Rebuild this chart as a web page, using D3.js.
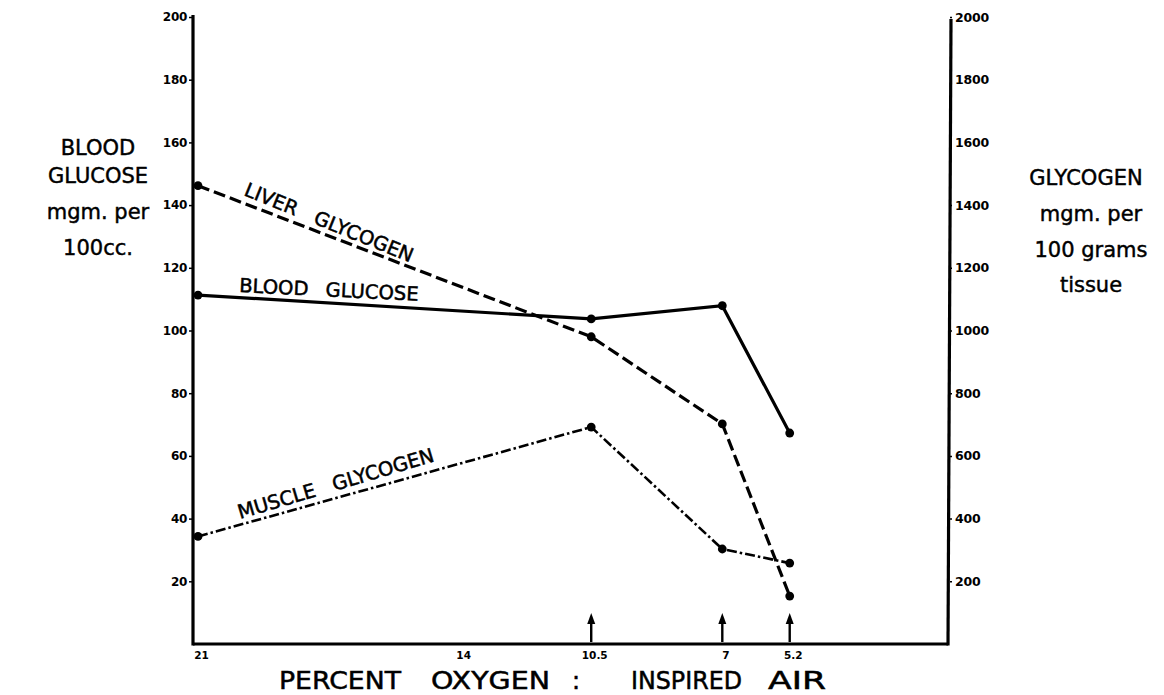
<!DOCTYPE html>
<html>
<head>
<meta charset="utf-8">
<script src="https://cdn.jsdelivr.net/npm/d3@7"></script>
<style>
  html, body { margin: 0; padding: 0; background: #fff; }
  svg { display: block; }
  text { font-family: "DejaVu Sans", sans-serif; fill: #000; }
</style>
</head>
<body>
<svg id="chart" width="1164" height="695"></svg>
<script>
// ---- data ----
const oxygen = [21, 10.5, 7, 5.2];                 // percent oxygen, inspired air
const bloodGlucose = [111.3, 103.7, 107.9, 67.3];  // mgm per 100cc (left axis)
const liverGlycogen = [1462, 980, 702, 153];       // mgm per 100 g tissue (right axis)
const muscleGlycogen = [343, 692, 303, 258];       // mgm per 100 g tissue (right axis)
const xTicks = [21, 14, 10.5, 7, 5.2];
const arrowsAt = [10.5, 7, 5.2];
const leftTicks = [20, 40, 60, 80, 100, 120, 140, 160, 180, 200];
const rightTicks = [200, 400, 600, 800, 1000, 1200, 1400, 1600, 1800, 2000];
const leftTitle = ["BLOOD", "GLUCOSE", "mgm. per", "100cc."];
const rightTitle = ["GLYCOGEN", "mgm. per", "100 grams", "tissue"];
const bottomTitle = ["PERCENT", "OXYGEN", ":", "INSPIRED", "AIR"];

// ---- scales ----
const svg = d3.select("#chart");
const x = d3.scaleLinear().domain([21, 1]).range([198, 947]);
const yL = d3.scaleLinear().domain([0, 200]).range([644, 17]);
const yR = d3.scaleLinear().domain([0, 2000]).range([644, 17]);

const leftX = x(21) - 5;
const rightX = x(1) + 1;

// ---- frame ----
const frame = svg.append("g").attr("stroke", "#000").attr("fill", "none");
frame.append("line").attr("x1", leftX).attr("x2", leftX)
  .attr("y1", yL(200) - 2).attr("y2", yL(0) + 1.5).attr("stroke-width", 3.2);
frame.append("line").attr("x1", leftX).attr("x2", rightX)
  .attr("y1", yL(0)).attr("y2", yL(0)).attr("stroke-width", 3);
frame.append("line").attr("x1", rightX).attr("x2", rightX + 3)
  .attr("y1", yL(0) + 1.5).attr("y2", yR(2000) + 2).attr("stroke-width", 3.2);

// ---- axes ----
const gL = svg.append("g").attr("transform", `translate(${leftX - 1},0)`)
  .call(d3.axisLeft(yL).tickValues(leftTicks).tickSize(3).tickPadding(2).tickFormat(d => String(d)));
const gR = svg.append("g").attr("transform", `translate(${rightX + 2},0)`)
  .call(d3.axisRight(yR).tickValues(rightTicks).tickSize(2).tickPadding(3).tickFormat(d => String(d)));
const gB = svg.append("g").attr("transform", `translate(0,${yL(0)})`)
  .call(d3.axisBottom(x).tickValues(xTicks).tickSize(0).tickPadding(8).tickFormat(d => String(d)));
[gL, gR, gB].forEach(g => {
  g.select(".domain").remove();
  g.selectAll(".tick line").attr("stroke", "#000").attr("stroke-width", 1.5);
  g.selectAll(".tick text").attr("font-family", "DejaVu Sans, sans-serif")
    .attr("font-weight", "bold").attr("fill", "#000");
});
gL.selectAll(".tick text").attr("font-size", 12).attr("letter-spacing", -0.3);
gR.selectAll(".tick text").attr("font-size", 12.5).attr("letter-spacing", -0.2);
gB.selectAll(".tick text").attr("font-size", 10.5).attr("dx", 3);

// ---- arrows ----
arrowsAt.forEach(v => {
  const ax = x(v);
  svg.append("line").attr("x1", ax).attr("x2", ax).attr("y1", yL(0) - 2).attr("y2", yL(0) - 26)
    .attr("stroke", "#000").attr("stroke-width", 2.4);
  svg.append("path")
    .attr("d", `M${ax - 4},${yL(0) - 20} L${ax},${yL(0) - 31} L${ax + 4},${yL(0) - 20} Z`)
    .attr("fill", "#000");
});

// ---- series ----
function series(values, yScale, dash, width) {
  const pts = oxygen.map((o, i) => [x(o), yScale(values[i])]);
  svg.append("path").attr("d", d3.line()(pts))
    .attr("fill", "none").attr("stroke", "#000").attr("stroke-width", width)
    .attr("stroke-dasharray", dash);
  svg.append("g").selectAll("circle").data(pts).join("circle")
    .attr("cx", d => d[0]).attr("cy", d => d[1]).attr("r", 4.4).attr("fill", "#000");
}
series(bloodGlucose, yL, null, 3.2);
series(liverGlycogen, yR, "12,5", 3.2);
series(muscleGlycogen, yR, "10,3,2.5,3", 2.6);

// ---- in-chart labels ----
function label(txt, px, py, angle, size, ws) {
  svg.append("text").attr("transform", `translate(${px},${py}) rotate(${angle})`)
    .attr("font-size", size).attr("word-spacing", ws)
    .attr("stroke", "#000").attr("stroke-width", 0.5).text(txt);
}
label("LIVER GLYCOGEN", 243, 195, 22, 19.5, 13);
label("BLOOD GLUCOSE", 239, 292, 2.8, 19.5, 11);
label("MUSCLE GLYCOGEN", 240, 519, -16.5, 19.5, 12);

// ---- titles ----
[155, 183, 219, 255].forEach((yy, i) => {
  svg.append("text").attr("x", 98).attr("y", yy).attr("font-size", 21)
    .attr("stroke", "#000").attr("stroke-width", 0.45)
    .attr("text-anchor", "middle").text(leftTitle[i]);
});
[185, 221, 257, 292].forEach((yy, i) => {
  svg.append("text").attr("x", i === 0 ? 1086 : 1091).attr("y", yy).attr("font-size", 21)
    .attr("stroke", "#000").attr("stroke-width", 0.45)
    .attr("text-anchor", "middle").text(rightTitle[i]);
});

const bottomPos = [[279, 122], [431, 119], [572, null], [631, 111], [768, 58]];
bottomTitle.forEach((w, i) => {
  const t = svg.append("text").attr("x", bottomPos[i][0]).attr("y", 689).attr("font-size", 24)
    .attr("stroke", "#000").attr("stroke-width", 0.5).text(w);
  if (bottomPos[i][1]) t.attr("textLength", bottomPos[i][1]).attr("lengthAdjust", "spacingAndGlyphs");
});
</script>
</body>
</html>
